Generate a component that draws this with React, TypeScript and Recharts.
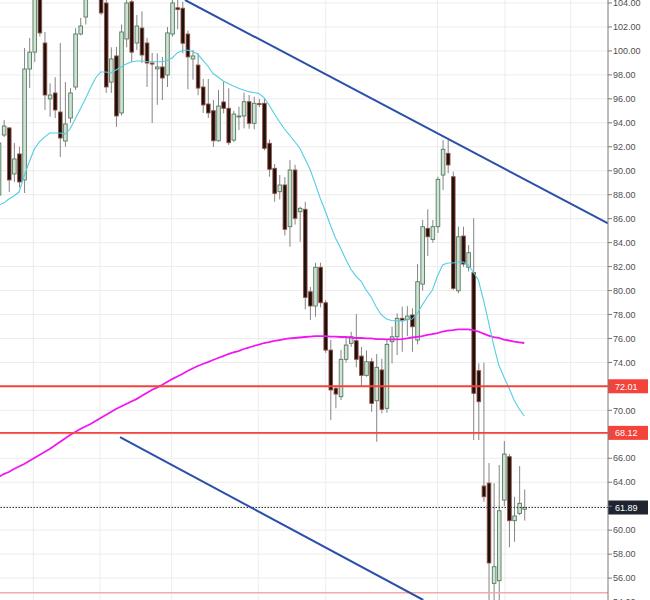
import React from 'react';
import {
  ComposedChart,
  Bar,
  Line,
  XAxis,
  YAxis,
  CartesianGrid,
  ReferenceLine,
} from 'recharts';

// daily candles, oldest first
const OPEN = [
  87.97, 92.98, 93.57, 89.73, 91.4, 89.23, 98.49, 99.9, 105.0, 100.66,
  96.0, 96.49, 94.9, 92.48, 94.4, 96.99, 101.41, 102.83, 104.8, 106.0,
  105.0, 104.0, 97.4, 99.58, 94.82, 101.0, 104.1, 100.66, 101.91, 100.66,
  98.99, 98.5, 98.66, 97.99, 101.41, 103.6, 103.56, 101.41, 99.33, 98.82,
  96.99, 95.57, 95.01, 92.5, 95.74, 95.21, 92.56, 94.5, 94.57, 95.76,
  93.96, 95.6, 95.63, 92.29, 90.2, 88.25, 88.81, 85.33, 90.06, 86.58,
  86.78, 79.9, 78.71, 81.94, 78.98, 75.03, 71.84, 71.14, 74.26, 75.59,
  75.81, 74.53, 72.92, 74.06, 70.8, 73.37, 70.17, 75.73, 76.14, 77.68,
  77.6, 77.96, 75.87, 80.54, 85.19, 84.27, 85.33, 89.64, 91.45, 89.5,
  79.98, 84.55, 81.94, 81.49, 73.31, 63.68, 63.93, 55.56, 55.78, 62.51,
  66.13, 60.79, 61.4, 61.74,
];
const HIGH = [
  93.0, 94.23, 93.65, 92.31, 92.0, 100.24, 101.08, 105.2, 105.5, 101.58,
  97.3, 97.8, 100.66, 97.4, 96.9, 101.9, 102.75, 105.0, 106.5, 106.8,
  105.5, 104.3, 100.3, 100.33, 102.2, 104.5, 104.5, 103.0, 103.3, 101.1,
  99.83, 99.8, 99.5, 102.0, 104.6, 104.3, 104.1, 101.7, 100.08, 99.8,
  97.66, 97.66, 95.9, 96.74, 97.43, 96.88, 95.0, 95.34, 96.51, 96.32,
  96.18, 96.0, 96.0, 92.6, 90.56, 89.64, 89.47, 90.89, 90.5, 87.0,
  87.41, 80.3, 82.32, 82.32, 79.2, 75.87, 72.1, 75.03, 76.14, 76.56,
  78.04, 75.3, 75.0, 74.37, 74.7, 74.3, 75.9, 76.98, 78.1, 78.65,
  78.7, 78.51, 82.21, 85.9, 86.78, 85.89, 89.5, 92.56, 92.56, 89.92,
  85.33, 85.33, 83.8, 86.03, 73.92, 73.97, 65.6, 63.91, 65.44, 67.44,
  66.35, 62.79, 65.35, 63.4,
];
const LOW = [
  87.5, 92.81, 88.22, 89.06, 88.6, 88.14, 96.9, 99.07, 101.2, 95.07,
  94.5, 94.4, 91.15, 92.0, 94.0, 96.74, 101.3, 102.2, 104.5, 104.4,
  103.0, 96.5, 96.5, 93.65, 94.6, 100.3, 99.07, 100.08, 98.99, 96.99,
  93.98, 95.5, 95.9, 96.99, 101.2, 101.8, 99.8, 96.8, 97.6, 96.3,
  94.82, 94.4, 91.98, 92.42, 94.79, 92.15, 92.4, 93.4, 93.54, 93.5,
  93.46, 95.3, 91.7, 89.5, 87.41, 87.6, 84.6, 83.66, 85.5, 84.07,
  78.43, 77.54, 77.81, 78.6, 74.8, 69.19, 70.17, 70.86, 74.0, 75.3,
  73.6, 72.0, 72.8, 69.88, 67.38, 69.75, 69.8, 73.92, 74.62, 74.89,
  76.2, 74.89, 75.5, 80.0, 82.88, 83.99, 84.8, 88.39, 89.78, 80.04,
  79.77, 81.99, 81.6, 67.52, 67.52, 62.37, 53.6, 53.5, 53.8, 62.0,
  58.57, 59.03, 61.26, 60.8,
];
const CLOSE = [
  92.31, 93.73, 89.23, 90.98, 89.06, 98.49, 99.9, 104.6, 101.5, 96.32,
  96.32, 95.07, 92.73, 93.9, 96.49, 101.41, 102.08, 104.6, 106.0, 105.2,
  103.17, 96.99, 99.33, 94.57, 101.58, 104.0, 99.9, 102.08, 99.66, 98.99,
  98.9, 98.66, 97.74, 101.5, 104.0, 103.45, 100.64, 99.5, 99.58, 96.9,
  95.49, 94.82, 92.5, 95.4, 95.21, 92.34, 94.73, 94.57, 95.76, 93.96,
  95.63, 95.55, 91.87, 90.12, 88.11, 88.81, 85.11, 90.06, 86.03, 86.86,
  79.43, 78.71, 81.94, 78.98, 75.03, 71.7, 71.36, 74.26, 75.45, 76.14,
  74.26, 72.92, 74.06, 70.58, 73.59, 70.09, 75.51, 76.14, 77.68, 77.48,
  77.87, 76.98, 80.74, 85.33, 84.49, 85.33, 89.28, 91.79, 90.48, 80.18,
  84.49, 82.21, 83.16, 71.42, 70.72, 62.79, 57.26, 56.95, 61.62, 66.35,
  60.79, 61.18, 62.24, 61.89,
];

// short moving average (cyan)
const MA_FAST = [
  87.14, 87.3, 87.64, 87.89, 88.22, 89.56, 90.73, 91.81, 92.4, 92.81,
  93.15, 93.15, 93.15, 93.06, 93.48, 94.32, 95.15, 95.99, 96.9, 97.74,
  98.24, 98.24, 98.16, 98.41, 98.66, 98.91, 99.07, 99.16, 99.16, 99.12,
  99.1, 99.1, 99.1, 99.2, 99.41, 99.83, 100.03, 100.08, 99.95, 99.74,
  99.24, 98.74, 98.11, 97.82, 97.49, 97.28, 97.07, 96.88, 96.74, 96.6,
  96.53, 96.45, 96.11, 95.49, 94.78, 94.11, 93.48, 92.98, 92.44, 91.9,
  91.02, 90.14, 88.97, 87.72, 86.64, 85.47, 84.38, 83.55, 82.63, 81.8,
  81.21, 80.79, 80.04, 79.46, 78.62, 77.96, 77.62, 77.5, 77.48, 77.48,
  77.54, 77.62, 78.04, 78.79, 79.46, 80.04, 81.21, 82.13, 82.3, 82.3,
  82.38, 82.38, 82.13, 81.55, 80.88, 79.21, 77.37, 75.45, 73.78, 72.78,
  71.86, 70.86, 70.11, 69.53,
];

// long moving average (magenta)
const MA_SLOW = [
  64.43, 64.68, 64.85, 65.1, 65.31, 65.52, 65.77, 66.02, 66.27, 66.52,
  66.77, 67.06, 67.36, 67.65, 67.94, 68.19, 68.44, 68.65, 68.86, 69.11,
  69.36, 69.61, 69.86, 70.11, 70.32, 70.53, 70.74, 70.94, 71.19, 71.45,
  71.7, 71.9, 72.11, 72.36, 72.61, 72.82, 73.03, 73.28, 73.49, 73.7,
  73.87, 74.03, 74.2, 74.37, 74.53, 74.7, 74.83, 74.95, 75.12, 75.24,
  75.37, 75.49, 75.62, 75.7, 75.79, 75.87, 75.95, 76.0, 76.04, 76.08,
  76.12, 76.16, 76.2, 76.2, 76.2, 76.16, 76.16, 76.12, 76.12, 76.08,
  76.04, 76.04, 76.01, 76.0, 75.95, 75.95, 75.93, 75.93, 75.93, 75.95,
  76.0, 76.08, 76.14, 76.2, 76.29, 76.37, 76.45, 76.58, 76.66, 76.7,
  76.75, 76.76, 76.76, 76.7, 76.58, 76.41, 76.24, 76.12, 76.04, 75.91,
  75.83, 75.74, 75.68, 75.62,
];

const PRICE_TICKS = [
  54, 56, 58, 60, 62, 64, 66, 68, 70, 72, 74, 76, 78, 80,
  82, 84, 86, 88, 90, 92, 94, 96, 98, 100, 102, 104,
];
const GRID_X = [6.8, 19.87, 33.91, 50.88, 64.09, 85.99, 99.22, 112.09];

const UPPER_TREND = [{ x: 36.52, y: 104.25 }, { x: 119.4, y: 85.6 }];
const LOWER_TREND = [{ x: 23.79, y: 67.77 }, { x: 83.2, y: 54.17 }];
const LEVELS = [72.01, 68.12];
const OLD_LEVEL = 54.78;
const LAST_PRICE = 61.89;

const FONT = '"Liberation Sans", Arial, sans-serif';
const TAGGED = [LAST_PRICE, ...LEVELS];

const data = OPEN.map((o, i) => ({
  i,
  o,
  h: HIGH[i],
  l: LOW[i],
  c: CLOSE[i],
  range: [LOW[i], HIGH[i]],
  maFast: MA_FAST[i],
  maSlow: MA_SLOW[i],
}));

const Candle = (props: any) => {
  const { x, y, width, height, payload } = props;
  if (x == null || y == null || !payload) return null;
  const { o, c, h, l } = payload;
  const cx = x + width / 2;
  const top = Math.min(y, y + height);
  const span = Math.abs(height);
  const toPx = (v: number) => top + ((h - v) / (h - l || 1)) * span;
  const up = c >= o;
  const bodyTop = toPx(Math.max(o, c));
  const bodyBottom = toPx(Math.min(o, c));
  return (
    <g>
      <line x1={cx} x2={cx} y1={top} y2={top + span} stroke="#858585" strokeWidth={1} />
      <rect
        x={cx - 1.8}
        y={bodyTop}
        width={3.6}
        height={Math.max(bodyBottom - bodyTop, 1)}
        fill={up ? '#d3e1d6' : '#1c1010'}
        stroke={up ? '#4e7d5d' : '#94503f'}
        strokeWidth={0.9}
      />
    </g>
  );
};

// tick labels hidden behind the price tags are skipped
const PriceTick = ({ x, y, payload }: any) => {
  const v = payload.value;
  if (TAGGED.some((t) => Math.abs(t - v) < 0.6)) return null;
  return (
    <text x={x} y={y} dy={3.2} fill="#4f4f4f" fontSize={9} fontFamily={FONT} textAnchor="start">
      {v.toFixed(2)}
    </text>
  );
};

const PriceTag = ({ viewBox, text, fill }: any) => {
  if (!viewBox) return null;
  const x = viewBox.x + viewBox.width;
  return (
    <g>
      <rect x={x} y={viewBox.y - 7} width={40} height={14} fill={fill} />
      <text x={x + 7} y={viewBox.y + 3.3} fill="#ffffff" fontSize={9} fontFamily={FONT}>
        {text}
      </text>
    </g>
  );
};

export default function App() {
  return (
    <div style={{ position: 'absolute', left: 0, top: 0, width: 650, height: 600, background: '#fff' }}>
      <ComposedChart width={650} height={600} data={data} margin={{ top: 0, right: 0, bottom: 0, left: 0 }}>
        <CartesianGrid stroke="#ececec" verticalValues={GRID_X} horizontalValues={PRICE_TICKS} />
        <XAxis type="number" dataKey="i" domain={[0.274, 119.4]} allowDataOverflow hide />
        <YAxis
          orientation="right"
          domain={[54.17, 104.25]}
          allowDataOverflow
          ticks={PRICE_TICKS}
          interval={0}
          width={42}
          axisLine={{ stroke: '#7b7b7b' }}
          tickLine={{ stroke: '#7b7b7b' }}
          tickSize={4}
          tickMargin={1}
          tick={<PriceTick />}
        />
        <Line dataKey="maSlow" stroke="#f018f0" strokeWidth={1.8} dot={false} isAnimationActive={false} />
        <Line dataKey="maFast" stroke="#52cde3" strokeWidth={1.1} dot={false} isAnimationActive={false} />
        <Bar dataKey="range" barSize={4} shape={<Candle />} isAnimationActive={false} />
        <ReferenceLine y={OLD_LEVEL} stroke="#f6a9a9" strokeWidth={1.5} />
        <ReferenceLine
          y={LAST_PRICE}
          stroke="#333"
          strokeDasharray="1.5 1.5"
          label={<PriceTag text={LAST_PRICE.toFixed(2)} fill="#1f2430" />}
        />
        {LEVELS.map((v) => (
          <ReferenceLine
            key={v}
            y={v}
            stroke="#f4433a"
            strokeWidth={1.8}
            label={<PriceTag text={v.toFixed(2)} fill="#f4433a" />}
          />
        ))}
        <ReferenceLine segment={UPPER_TREND} stroke="#2b50aa" strokeWidth={2} ifOverflow="hidden" />
        <ReferenceLine segment={LOWER_TREND} stroke="#2b50aa" strokeWidth={2} ifOverflow="hidden" />
      </ComposedChart>
    </div>
  );
}
